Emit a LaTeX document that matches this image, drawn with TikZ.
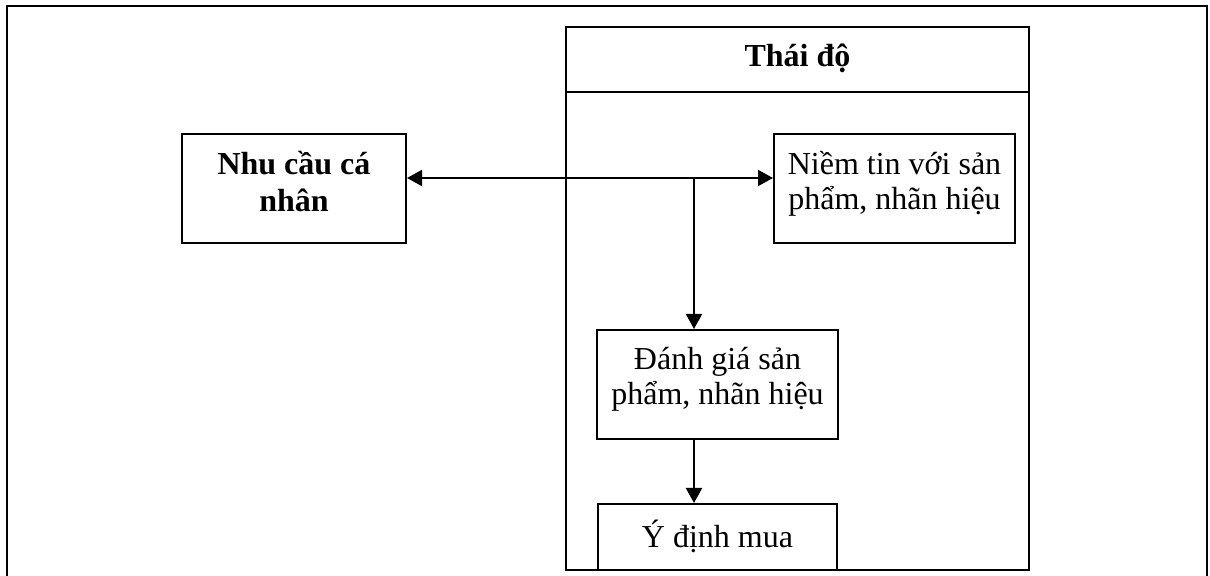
\documentclass[tikz,border=0pt]{standalone}
\usepackage{fontspec}
\setmainfont{Liberation Serif}
\usetikzlibrary{arrows.meta}
\begin{document}
\begin{tikzpicture}[x=0.5pt,y=-0.5pt,
  box/.style={draw, line width=1pt, inner sep=0pt, align=center,
    font=\fontsize{16pt}{17.5pt}\selectfont},
  boldbox/.style={box, font=\fontsize{16pt}{18.5pt}\selectfont\bfseries},
  arr/.style={line width=1pt, -{Triangle[length=7.5pt,width=8pt]}},
  darr/.style={line width=1pt, {Triangle[length=7.5pt,width=8pt]}-{Triangle[length=7.5pt,width=8pt]}}]
\useasboundingbox (0,0) rectangle (1210,576);
\draw[line width=1pt] (7,576) -- (7,6) -- (1207,6) -- (1207,576);
% big box
\node[box, minimum width=231.5pt, minimum height=271.5pt] (thaido) at (797.5,298.5) {};
\node[boldbox, minimum width=231.5pt, minimum height=32.5pt, text height=10.5pt, text depth=3pt] (hdr) at (797.5,59.5) {Thái độ};
\node[boldbox, minimum width=112pt, minimum height=54.5pt, text height=26.5pt, text depth=3pt] (nhucau) at (294,188.5) {Nhu cầu cá\\nhân};
\node[box, minimum width=120.5pt, minimum height=54.5pt, text height=24.5pt, text depth=3pt] (niemtin) at (894.5,188.5) {Niềm tin với sản\\phẩm, nhãn hiệu};
\node[box, minimum width=120.5pt, minimum height=54.5pt, text height=23.5pt, text depth=3pt] (danhgia) at (717.5,384.5) {Đánh giá sản\\phẩm, nhãn hiệu};
\node[box, minimum width=119.5pt, minimum height=33pt, text height=14pt, text depth=3pt] (ydinh) at (717.5,537) {Ý định mua};
\coordinate (j) at (694,178);
\draw[darr] (j -| nhucau.east) -- (j -| niemtin.west);
\draw[arr] (j) -- (j |- danhgia.north);
\draw[arr] (danhgia.south -| j) -- (ydinh.north -| j);
\end{tikzpicture}
\end{document}
